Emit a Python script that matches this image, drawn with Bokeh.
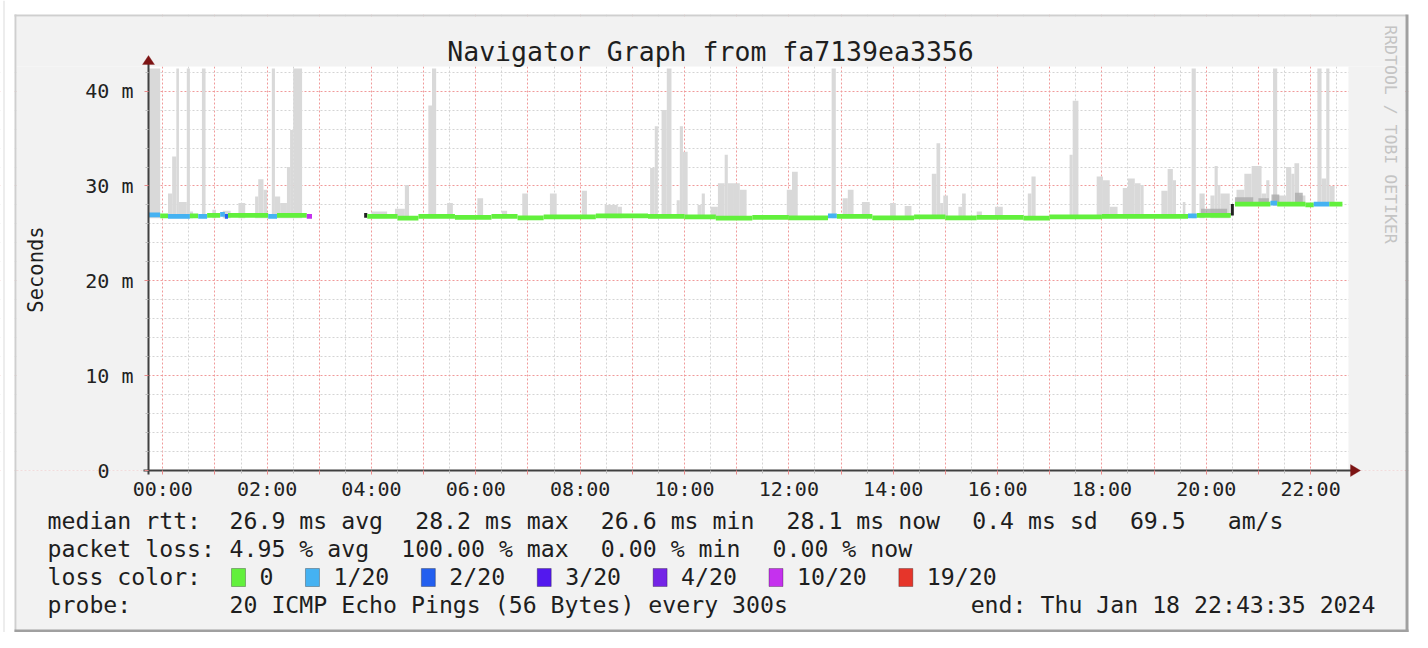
import math
from bokeh.plotting import figure
from bokeh.models import (FixedTicker, Range1d, Label, BoxAnnotation, PolyAnnotation,
                          ColumnDataSource, LinearAxis, Grid)
from bokeh.embed import file_html
from bokeh.resources import INLINE

# ---------------- data ----------------
# time in hours relative to Jan 18 00:00 (graph ends Thu Jan 18 22:43:35 2024)
t_start = -0.2736
t_end = 22.7264
y_top = 42.6          # milliseconds

x_major_hours = list(range(0, 23))
x_minor_hours = [h + 0.5 for h in range(0, 23)]
x_tick_text = ["00:00", "02:00", "04:00", "06:00", "08:00", "10:00",
               "12:00", "14:00", "16:00", "18:00", "20:00", "22:00"]
y_major = [0, 10, 20, 30, 40]
y_tick_text = ["0\u00a0\u00a0", "10 m", "20 m", "30 m", "40 m"]
y_minor = [v for v in range(2, 43, 2) if v % 10]

# smoke (ping spread) : start hour, end hour, max rtt (ms)
smoke_left = [-0.274, 0.10, 0.18, 0.26, 0.31, 0.46, 0.52, 0.75, 0.95, 1.15, 1.45, 1.77, 1.83, 1.93,
              2.09, 2.15, 2.25, 2.38, 2.44, 2.50,
              4.00, 4.45, 4.64, 5.09, 5.16, 5.45, 6.03, 6.50, 6.89, 7.42, 8.03, 8.47, 8.72,
              9.34, 9.43, 9.56, 9.66, 9.85, 9.91, 9.97, 10.25, 10.33, 10.50, 10.64, 10.77, 10.83,
              10.93, 11.06, 11.96, 12.06, 12.82, 13.03, 13.13, 13.40, 13.94, 14.22, 14.74, 14.83,
              14.90, 14.96, 15.25, 15.32, 15.60, 15.95, 16.58, 16.65, 17.38, 17.44, 17.90, 18.02,
              18.15, 18.40, 18.50, 18.63, 18.74, 19.14, 19.26, 19.36, 19.55, 19.72, 19.87, 20.08,
              20.16, 20.22, 20.27, 20.58, 20.73, 20.87, 21.06, 21.15, 21.28, 21.36, 21.53, 21.63,
              21.69, 21.78, 22.13, 22.21, 22.30, 22.36]
smoke_right = [-0.05, 0.18, 0.26, 0.31, 0.46, 0.52, 0.58, 0.82, 1.02, 1.30, 1.58, 1.83, 1.93, 2.00,
               2.15, 2.25, 2.38, 2.44, 2.50, 2.67,
               4.30, 4.64, 4.72, 5.16, 5.24, 5.56, 6.14, 6.60, 7.00, 7.55, 8.13, 8.72, 8.80,
               9.43, 9.49, 9.66, 9.75, 9.91, 9.97, 10.06, 10.33, 10.39, 10.64, 10.77, 10.83, 10.93,
               11.06, 11.19, 12.06, 12.17, 12.90, 13.13, 13.24, 13.55, 14.05, 14.35, 14.83, 14.90,
               14.96, 15.05, 15.32, 15.39, 15.70, 16.10, 16.65, 16.73, 17.44, 17.55, 18.02, 18.15,
               18.30, 18.50, 18.63, 18.74, 18.80, 19.26, 19.36, 19.42, 19.60, 19.80, 19.97, 20.16,
               20.22, 20.27, 20.45, 20.73, 20.87, 21.06, 21.15, 21.21, 21.36, 21.53, 21.63, 21.69,
               21.78, 21.90, 22.21, 22.30, 22.36, 22.46]
smoke_top = [42.4, 29.2, 33.1, 42.4, 28.3, 42.4, 27.3, 42.4, 27.5, 27.4, 28.2, 28.9, 30.7, 29.6,
             42.4, 28.9, 28.2, 32.0, 35.9, 42.4,
             27.3, 27.6, 30.1, 38.5, 42.4, 28.2, 28.7, 27.4, 29.2, 29.2, 29.5, 28.0, 27.8,
             31.9, 36.3, 38.0, 42.4, 28.5, 36.3, 33.6, 28.0, 29.2, 27.8, 30.3, 33.3, 30.3,
             30.3, 29.6, 29.6, 31.5, 42.4, 28.7, 29.6, 28.3, 28.2, 27.9, 31.3, 34.5,
             28.2, 29.0, 27.8, 29.2, 27.3, 27.8, 29.2, 31.0, 33.3, 39.0, 31.0, 30.6,
             27.8, 29.8, 30.8, 30.3, 30.1, 29.5, 31.8, 30.6, 28.3, 42.4, 29.2, 29.0,
             32.1, 30.1, 29.2, 29.6, 31.3, 32.1, 29.2, 30.6, 42.4, 29.0, 32.0, 31.3,
             32.4, 29.0, 42.4, 30.8, 42.4, 30.0]

# denser smoke close to the median
core_left = [19.90, 20.55, 21.00, 21.25, 21.70]
core_right = [20.40, 20.90, 21.20, 21.40, 21.85]
core_bottom = [27.1, 28.3, 28.3, 28.3, 28.3]
core_top = [27.6, 28.8, 28.7, 29.1, 29.3]

# median rtt: start hour, end hour, value (ms), loss class index
med_left = [-0.274, -0.05, 0.10, 0.52, 0.68, 0.85, 1.10, 1.19, 1.25, 2.02, 2.19, 2.76,
            3.86, 3.92, 4.50, 4.90, 5.60, 6.30, 6.80, 7.30, 8.30, 9.30, 10.00, 10.60, 11.30,
            12.00, 12.75, 12.92, 13.60, 14.40, 15.00, 15.60, 16.50, 17.00, 18.00, 19.65, 19.82,
            20.55, 21.23, 21.36, 21.90, 22.06, 22.36]
med_right = [-0.05, 0.10, 0.52, 0.68, 0.85, 1.10, 1.19, 1.25, 2.02, 2.19, 2.76, 2.86,
             3.92, 4.50, 4.90, 5.60, 6.30, 6.80, 7.30, 8.30, 9.30, 10.00, 10.60, 11.30, 12.00,
             12.75, 12.92, 13.60, 14.40, 15.00, 15.60, 16.50, 17.00, 18.00, 19.65, 19.82, 20.47,
             21.23, 21.36, 21.90, 22.06, 22.36, 22.61]
med_value = [26.95, 26.85, 26.8, 26.85, 26.8, 26.9, 27.0, 26.8, 26.9, 26.8, 26.9, 26.8,
             26.9, 26.8, 26.6, 26.8, 26.7, 26.8, 26.65, 26.75, 26.85, 26.8, 26.75, 26.6, 26.7,
             26.65, 26.85, 26.8, 26.65, 26.75, 26.65, 26.7, 26.6, 26.75, 26.8, 26.85, 26.9,
             28.1, 28.2, 28.1, 28.0, 28.1, 28.1]
med_loss = [1, 0, 1, 0, 1, 0, 1, 2, 0, 1, 0, 5,
            7, 0, 0, 0, 0, 0, 0, 0, 0, 0, 0, 0, 0,
            0, 1, 0, 0, 0, 0, 0, 0, 0, 0, 1, 0,
            0, 1, 0, 0, 1, 0]
# level change of the median around 20:30
step_x = [20.50]
step_from = [26.9]
step_to = [28.1]

loss_labels = ["0", "1/20", "2/20", "3/20", "4/20", "10/20", "19/20"]
loss_colors = ["#62f03c", "#45b2f2", "#235fef", "#5318ee", "#7424e6", "#c531ee", "#e6352a", "#222222"]

rtt_values = [26.9, 28.2, 26.6, 28.1]
rtt_names = ["avg", "max", "min", "now"]
rtt_sd = 0.4
rtt_ams = 69.5
loss_values = [4.95, 100.00, 0.00, 0.00]
loss_names = ["avg", "max", "min", "now"]
probe_text = "20 ICMP Echo Pings (56 Bytes) every 300s"
end_text = "end: Thu Jan 18 22:43:35 2024"
title_text = "Navigator Graph from fa7139ea3356"

# ---------------- layout (canvas pixel positions) ----------------
W, H = 1412, 632
FL, FR, FT, FB = 148, 1348, 66, 470      # data area
PL, PR, PT, PB = 16, 1405, 16, 632       # grey panel
MONO = "DejaVu Sans Mono"
CW = 13.97                               # legend character advance (px)
GAP = 32                                 # gap between legend items (px)

pxh = (FR - FL) / (t_end - t_start)      # pixels per hour
pxm = (FB - FT) / y_top                  # pixels per ms


def tx(px):
    return t_start + (px - FL) / pxh


def my(py):
    return (FB - py) / pxm


p = figure(width=W, height=H, x_range=Range1d(tx(0), tx(W)), y_range=Range1d(my(H), my(0)),
           x_axis_type=None, y_axis_type=None,
           output_backend="svg", toolbar_location=None,
           min_border=0, min_border_left=0, min_border_right=0, min_border_top=0, min_border_bottom=0,
           border_fill_color="white", background_fill_color="white", outline_line_color=None)

xt = FixedTicker(ticks=x_major_hours, minor_ticks=x_minor_hours)
yt = FixedTicker(ticks=y_major, minor_ticks=y_minor)

for dim, tk, bnd in ((0, xt, (t_start, t_end)), (1, yt, (0, y_top))):
    p.add_layout(Grid(dimension=dim, ticker=tk, bounds=bnd,
                      grid_line_color="#f09a9a", grid_line_dash="2 2", grid_line_width=1,
                      minor_grid_line_color="#d4d4d4", minor_grid_line_dash="2 2",
                      minor_grid_line_width=1))


def cbox(l, r, t, b, c, level="underlay", line=None):
    return BoxAnnotation(left=l, right=r, top=t, bottom=b,
                         left_units="canvas", right_units="canvas",
                         top_units="canvas", bottom_units="canvas",
                         fill_color=c, fill_alpha=1, level=level,
                         line_color=line, line_width=1 if line else 0)

# grey panel around the data area (hides grid lines outside it) and its border
for bx in [cbox(PL, PR, PT, FT, "#f2f2f2"), cbox(PL, PR, FB, PB, "#f2f2f2"),
           cbox(PL, FL, FT, FB, "#f2f2f2"), cbox(FR, PR, FT, FB, "#f2f2f2"),
           cbox(0, PL - 2, 0, H, "white"), cbox(0, W, 0, PT - 2, "white"), cbox(PR + 3, W, 0, H, "white"),
           cbox(PL - 2, PR + 1, PT - 2, PT, "#cfcfcf"), cbox(PL - 2, PL, PT - 2, PB, "#cfcfcf"),
           cbox(PR, PR + 3, PT - 2, PB, "#a0a0a0"), cbox(PL - 2, PR + 3, PB - 3, PB, "#a0a0a0"),
           cbox(3, 4, 0, H, "#dcdcdc")]:
    p.add_layout(bx)

# smoke
smoke_bottom = [26.6 if l < 20.5 else 27.9 for l in smoke_left]
p.quad(left=smoke_left, right=smoke_right, bottom=smoke_bottom, top=smoke_top,
       fill_color="#d9d9d9", line_color=None)
p.quad(left=core_left, right=core_right, bottom=core_bottom, top=core_top,
       fill_color="#aaaaaa", fill_alpha=0.8, line_color=None)

# median line coloured by loss
med_src = ColumnDataSource(dict(
    left=med_left, right=med_right,
    bottom=[v - 0.25 for v in med_value], top=[v + 0.25 for v in med_value],
    color=[loss_colors[i] for i in med_loss]))
p.quad(left="left", right="right", bottom="bottom", top="top", fill_color="color",
       line_color=None, source=med_src)
p.segment(x0=step_x, y0=step_from, x1=step_x, y1=step_to, line_color="#222222", line_width=3)

# axes drawn at the edges of the data area
common = dict(axis_line_color="#404040", axis_line_width=2,
              major_tick_line_color="#e88a8a", major_tick_in=0, major_tick_out=4,
              minor_tick_line_color="#bdbdbd", minor_tick_in=0, minor_tick_out=3,
              major_label_text_font=MONO, major_label_text_font_size="20px",
              major_label_text_color="#222222")
lab = {h: "" for h in x_major_hours}
lab.update(dict(zip(range(0, 23, 2), x_tick_text)))
xax = LinearAxis(ticker=xt, fixed_location=0, bounds=(tx(143), tx(1351)),
                 major_label_overrides=lab, major_label_standoff=2, **common)
yax = LinearAxis(ticker=yt, fixed_location=t_start, bounds=(my(474), my(62)),
                 major_label_overrides=dict(zip(y_major, y_tick_text)),
                 major_label_standoff=11, **common)
p.add_layout(xax, "below")
p.add_layout(yax, "left")

ar = "#7d1414"
p.add_layout(PolyAnnotation(xs=[FL - 6, FL + 6, FL], ys=[64, 64, 55],
                            xs_units="canvas", ys_units="canvas", fill_color=ar, fill_alpha=1,
                            line_color=ar, line_width=1))
p.add_layout(PolyAnnotation(xs=[1350, 1350, 1360], ys=[FB - 6, FB + 6, FB],
                            xs_units="canvas", ys_units="canvas", fill_color=ar, fill_alpha=1,
                            line_color=ar, line_width=1))


def text(s, x, y, size="23.2px", align="left", color="#1e1e1e", angle=0.0, baseline="middle"):
    p.add_layout(Label(x=x, y=y, x_units="canvas", y_units="canvas", text=s,
                       text_font=MONO, text_font_size=size, text_align=align,
                       text_baseline=baseline, text_color=color, angle=angle))

text(title_text, 710, 51, size="26.5px", align="center")
text("RRDTOOL / TOBI OETIKER", 1390, 134, size="16.5px", align="center",
     color="#c4c4c4", angle=-math.pi / 2)
text("Seconds", 35, 269, size="20.5px", align="center", angle=math.pi / 2)

row_y = [520, 548, 576, 604]
X0, X1 = 47, 229

# row 1 : median rtt
text("median rtt:", X0, row_y[0])
items = [f"{v:.1f} ms {n}" for v, n in zip(rtt_values, rtt_names)] + [f"{rtt_sd:.1f} ms sd"]
x = X1
for s in items:
    text(s, x, row_y[0])
    x += len(s) * CW + GAP
text(f"{rtt_ams:.1f}", x, row_y[0])
text("am/s", x + 7 * CW, row_y[0])

# row 2 : packet loss
text("packet loss:", X0, row_y[1])
x = X1
for v, n in zip(loss_values, loss_names):
    s = f"{v:.2f} % {n}"
    text(s, x, row_y[1])
    x += len(s) * CW + GAP

# row 3 : loss colours
text("loss color:", X0, row_y[2])
x = 231
for lbl, c in zip(loss_labels, loss_colors):
    p.add_layout(cbox(x, x + 14, row_y[2] - 8, row_y[2] + 10, c, level="annotation", line="#111111"))
    text(lbl, x + 28, row_y[2])
    x += 28 + len(lbl) * CW + GAP

# row 4 : probe
text("probe:", X0, row_y[3])
text(probe_text, X1, row_y[3])
text(end_text, 1375, row_y[3], align="right")

open("out.html", "w").write(file_html(p, INLINE))
